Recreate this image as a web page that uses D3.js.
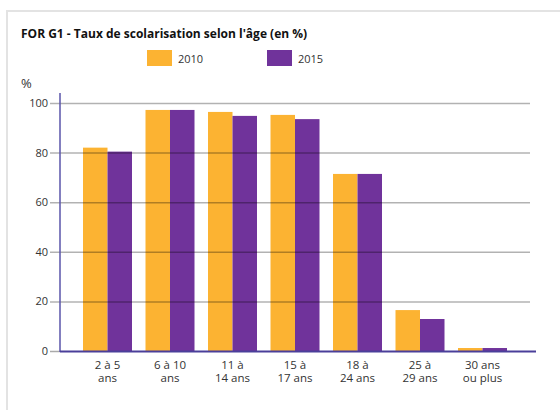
<!DOCTYPE html>
<meta charset="utf-8">
<script src="https://d3js.org/d3.v7.min.js"></script>
<style>
  body { margin: 0; background: #fff; }
  text { font-family: "Open Sans", sans-serif; fill: #333; }
</style>
<svg id="chart" width="560" height="410"></svg>
<script>
  // data
  var categoryLine1 = ["2 à 5", "6 à 10", "11 à", "15 à", "18 à", "25 à", "30 ans"];
  var categoryLine2 = ["ans", "ans", "14 ans", "17 ans", "24 ans", "29 ans", "ou plus"];
  var series = ["2010", "2015"];
  var values2010 = [82, 97.2, 96.4, 95.2, 71.4, 16.5, 1.2];
  var values2015 = [80.4, 97.2, 94.8, 93.5, 71.4, 12.9, 1.2];
  var yTicks = [0, 20, 40, 60, 80, 100];
  var colors = ["#fcb332", "#70339b"];

  var svg = d3.select("#chart");

  // frame
  svg.append("path")
    .attr("d", "M7,420 V11 H570")
    .attr("fill", "none")
    .attr("stroke", "#e3e3e3")
    .attr("stroke-width", 2);

  svg.append("text")
    .attr("x", 21)
    .attr("y", 38)
    .style("font-size", "12px")
    .style("font-weight", "bold")
    .style("fill", "#111")
    .text("FOR G1 - Taux de scolarisation selon l'âge (en %)");

  // legend
  var legendX = [147, 267];
  series.forEach(function (s, i) {
    svg.append("rect")
      .attr("x", legendX[i]).attr("y", 50)
      .attr("width", 25).attr("height", 16)
      .attr("fill", colors[i]);
    svg.append("text")
      .attr("x", legendX[i] + 31).attr("y", 63)
      .style("font-size", "11px")
      .text(s);
  });

  svg.append("text")
    .attr("x", 21).attr("y", 88)
    .style("font-size", "13px")
    .text("%");

  var x = d3.scaleBand()
    .domain(d3.range(categoryLine1.length))
    .range([60, 530])
    .paddingInner(0.216)
    .paddingOuter(0.368);

  var xSub = d3.scaleBand()
    .domain(series)
    .range([0, x.bandwidth()]);

  var y = d3.scaleLinear()
    .domain([0, 100])
    .range([351, 103]);

  // bars
  var rows = categoryLine1.map(function (c, i) {
    return { i: i, vals: [values2010[i], values2015[i]] };
  });

  var groups = svg.append("g")
    .selectAll("g")
    .data(rows)
    .enter()
    .append("g")
    .attr("transform", function (d) { return "translate(" + x(d.i) + ",0)"; });

  groups.selectAll("rect")
    .data(function (d) { return d.vals.map(function (v, k) { return { s: series[k], v: v, k: k }; }); })
    .enter()
    .append("rect")
    .attr("x", function (d) { return xSub(d.s); })
    .attr("y", function (d) { return y(d.v); })
    .attr("width", xSub.bandwidth())
    .attr("height", function (d) { return y(0) - y(d.v); })
    .attr("fill", function (d) { return colors[d.k]; });

  // gridlines (drawn over bars, semi transparent)
  svg.append("g")
    .selectAll("line")
    .data(yTicks.filter(function (t) { return t > 0; }))
    .enter()
    .append("line")
    .attr("x1", 50).attr("x2", 530)
    .attr("y1", function (d) { return y(d) + 0.5; })
    .attr("y2", function (d) { return y(d) + 0.5; })
    .attr("stroke", "#000")
    .attr("stroke-opacity", 0.3)
    .attr("stroke-width", 1.5);

  // y tick labels
  svg.append("g")
    .selectAll("text")
    .data(yTicks)
    .enter()
    .append("text")
    .attr("x", 48)
    .attr("y", function (d) { return y(d) + 4; })
    .attr("text-anchor", "end")
    .style("font-size", "11px")
    .text(function (d) { return d; });

  // axes
  svg.append("line")
    .attr("x1", 50).attr("x2", 60)
    .attr("y1", y(0) + 0.5).attr("y2", y(0) + 0.5)
    .attr("stroke", "#aaa").attr("stroke-width", 1.5);
  svg.append("line")
    .attr("x1", 60).attr("x2", 60)
    .attr("y1", 93).attr("y2", y(0) + 1)
    .attr("stroke", "#5a55aa").attr("stroke-width", 1.5);
  svg.append("line")
    .attr("x1", 60).attr("x2", 536)
    .attr("y1", y(0) + 0.5).attr("y2", y(0) + 0.5)
    .attr("stroke", "#4a3f9a").attr("stroke-width", 2);

  // category labels, two lines each
  var cx = function (d, i) { return x(i) + x.bandwidth() / 2; };
  [categoryLine1, categoryLine2].forEach(function (lines, j) {
    svg.append("g")
      .selectAll("text")
      .data(lines)
      .enter()
      .append("text")
      .attr("text-anchor", "middle")
      .style("font-size", "11.5px")
      .attr("x", cx)
      .attr("y", 369 + j * 13)
      .text(function (d) { return d; });
  });
</script>
